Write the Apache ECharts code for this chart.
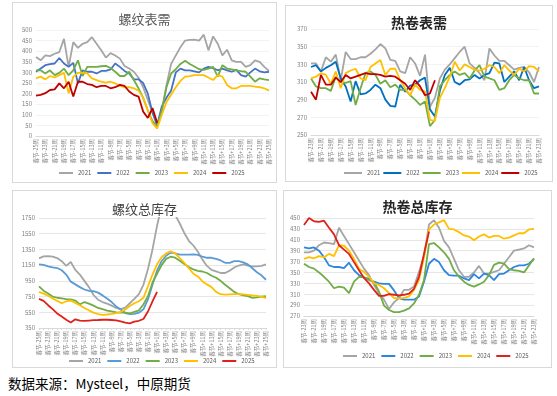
<!DOCTYPE html>
<html><head><meta charset="utf-8">
<script src="https://cdn.jsdelivr.net/npm/echarts@6/dist/echarts.min.js"></script>
<style>
html,body{margin:0;padding:0;background:#fff;width:557px;height:396px;overflow:hidden;font-family:"Noto Sans CJK SC","Noto Sans",sans-serif;}
.box{position:absolute;border:1px solid #d9d9d9;box-sizing:border-box;background:#fff;}
.ch{position:absolute;left:0;top:0;right:0;bottom:0;}
#src{position:absolute;left:8px;top:373px;font-size:13.5px;color:#000;font-family:"Noto Sans CJK SC",sans-serif;}
</style></head><body>
<div class="box" style="left:12px;top:2px;width:265px;height:181px;"><div class="ch" id="c1"></div></div>
<div class="box" style="left:285px;top:5px;width:268px;height:177px;"><div class="ch" id="c2"></div></div>
<div class="box" style="left:12px;top:190px;width:265px;height:178px;"><div class="ch" id="c3"></div></div>
<div class="box" style="left:283px;top:190px;width:269px;height:178px;"><div class="ch" id="c4"></div></div>
<div id="src">数据来源：Mysteel，中原期货</div>
<script>
// ---- categories ----
const weeks51 = ["春节-25周","春节-24周","春节-23周","春节-22周","春节-21周","春节-20周","春节-19周","春节-18周","春节-17周","春节-16周","春节-15周","春节-14周","春节-13周","春节-12周","春节-11周","春节-10周","春节-9周","春节-8周","春节-7周","春节-6周","春节-5周","春节-4周","春节-3周","春节-2周","春节-1周","春节当周","春节+1周","春节+2周","春节+3周","春节+4周","春节+5周","春节+6周","春节+7周","春节+8周","春节+9周","春节+10周","春节+11周","春节+12周","春节+13周","春节+14周","春节+15周","春节+16周","春节+17周","春节+18周","春节+19周","春节+20周","春节+21周","春节+22周","春节+23周","春节+24周","春节+25周"];
const weeks47 = ["春节-23周","春节-22周","春节-21周","春节-20周","春节-19周","春节-18周","春节-17周","春节-16周","春节-15周","春节-14周","春节-13周","春节-12周","春节-11周","春节-10周","春节-9周","春节-8周","春节-7周","春节-6周","春节-5周","春节-4周","春节-3周","春节-2周","春节-1周","春节当周","春节+1周","春节+2周","春节+3周","春节+4周","春节+5周","春节+6周","春节+7周","春节+8周","春节+9周","春节+10周","春节+11周","春节+12周","春节+13周","春节+14周","春节+15周","春节+16周","春节+17周","春节+18周","春节+19周","春节+20周","春节+21周","春节+22周","春节+23周"];
const years = ["2021","2022","2023","2024","2025"];

// ---- 螺纹表需 ----
const rebarDemand2021 = [373,357,380,377,388,396,458,326,443,416,435,443,466,435,404,370,391,380,365,330,318,303,275,230,170,110,55,120,240,340,380,419,450,453,455,450,478,404,470,435,380,407,357,350,350,326,334,357,350,326,307];
const rebarDemand2022 = [303,318,334,339,342,368,342,326,345,248,310,303,303,295,307,307,314,342,326,307,295,267,267,250,200,110,50,140,180,215,300,318,310,310,305,300,318,326,320,310,318,310,303,312,287,280,300,318,305,300,303];
const rebarDemand2023 = [310,310,295,310,287,298,318,287,310,357,283,326,326,326,329,331,321,303,283,283,303,264,225,180,120,70,45,120,230,295,315,340,355,340,328,315,312,318,326,280,334,318,314,310,306,303,280,256,272,267,264];
const rebarDemand2024 = [272,280,267,283,276,287,298,202,280,298,298,295,272,264,256,252,256,248,236,230,230,225,214,180,120,60,35,100,160,195,230,260,280,282,287,287,287,276,264,287,280,241,225,225,236,236,236,233,230,225,214];
const rebarDemand2025 = [190,194,202,217,220,248,225,256,186,256,256,245,241,230,236,236,225,230,241,236,210,194,186,115,85,132,62];

// ---- 热卷表需 ----
const hrcDemand2021 = [331,331,322,338,333,341,312,344,336,336,338,338,342,347,353,348,335,334,322,320,338,331,317,341,282,292,314,324,330,337,344,350,331,326,320,312,348,340,334,334,329,324,326,327,321,310,327];
const hrcDemand2022 = [327,329,322,326,329,333,314,305,288,311,296,297,301,307,303,290,283,282,307,299,306,307,312,315,279,271,300,318,326,310,307,312,313,318,314,318,320,332,331,310,316,322,312,327,312,303,305];
const hrcDemand2023 = [314,305,303,303,300,316,310,309,311,284,303,320,322,318,308,312,304,307,301,301,295,290,284,288,260,267,305,312,318,322,318,320,314,323,329,316,314,312,301,303,312,318,314,312,312,297,297];
const hrcDemand2024 = [314,316,320,318,308,322,303,320,323,325,314,312,327,331,335,318,325,325,312,303,295,307,301,299,267,266,292,303,316,333,323,330,327,324,323,325,329,327,320,329,323,318,325,322,328,327,322];
const hrcDemand2025 = [299,290,318,307,307,315,310,318,314,316,318,320,319,319,318,316,317,316,312,308,301,312,305,295,297,312];

// ---- 螺纹总库存 ----
const rebarStock2021 = [1236,1262,1265,1258,1240,1200,1140,1190,1090,1030,950,870,770,710,680,660,635,605,590,610,665,720,780,900,1100,1350,1650,1900,1980,1900,1790,1680,1560,1460,1400,1320,1220,1140,1090,1070,1050,1050,1080,1120,1145,1160,1145,1135,1135,1140,1160];
const rebarStock2022 = [1161,1152,1135,1122,1113,1085,1030,940,905,870,840,822,818,800,765,725,680,625,585,540,526,530,545,588,714,900,1080,1200,1270,1310,1300,1285,1285,1285,1288,1280,1257,1244,1244,1230,1210,1180,1180,1200,1200,1185,1160,1110,1060,1020,964];
const rebarStock2023 = [880,825,790,750,735,728,718,714,700,650,680,660,635,605,590,572,562,550,546,546,536,555,575,650,755,930,1040,1150,1230,1257,1245,1205,1165,1125,1095,1077,1069,1050,1015,990,950,900,855,810,780,765,755,734,740,750,755];
const rebarStock2024 = [810,787,760,725,695,665,690,700,670,640,605,575,546,528,518,522,530,540,555,585,630,665,690,734,881,1030,1160,1250,1300,1325,1300,1240,1180,1110,1040,1006,943,905,870,810,780,776,778,780,780,778,772,765,758,750,730];
const rebarStock2025 = [720,695,640,590,535,495,455,420,460,445,440,445,450,452,455,455,452,448,435,418,410,432,442,465,560,690,810];

// ---- 热卷总库存 ----
const hrcStock2021 = [387,387,390,400,405,404,402,432,417,402,387,372,357,345,327,312,300,283,295,303,318,318,324,351,381,438,446,432,408,396,375,354,342,342,350,362,348,348,351,354,366,378,390,392,394,400,396];
const hrcStock2022 = [396,394,396,390,378,363,360,360,358,368,354,345,341,338,333,330,329,329,317,303,300,300,300,306,333,366,375,369,354,345,344,344,339,336,347,339,348,345,336,347,348,354,360,363,363,366,375];
const hrcStock2023 = [366,360,357,350,342,333,321,324,322,312,333,342,341,336,332,315,289,281,277,277,280,284,293,309,336,402,404,396,387,375,354,342,333,327,324,328,333,345,364,368,366,356,354,353,350,363,376];
const hrcStock2024 = [375,378,376,380,378,384,380,400,399,390,375,357,351,342,330,327,321,312,303,303,303,306,318,336,378,429,438,442,446,430,429,424,418,416,409,416,420,414,417,417,412,414,418,422,422,429,430];
const hrcStock2025 = [437,450,444,443,445,432,420,400,392,384,369,354,340,330,318,307,307,310,309,308,309,311,320,342,384,425];

const FONT = '"Noto Sans CJK SC","Noto Sans",sans-serif';

function makeChart(id, cfg) {
  const chart = echarts.init(document.getElementById(id), null, {renderer: 'canvas'});
  const series = cfg.data.map((d, k) => ({
    name: years[k], type: 'line', data: d, symbol: 'none', showSymbol: false,
    smooth: false, clip: true,
    lineStyle: {width: 1.8, color: cfg.colors[k]}, itemStyle: {color: cfg.colors[k]},
    z: k === 4 ? 10 : 2 + k
  }));
  chart.setOption({
    animation: false,
    backgroundColor: '#fff',
    title: {text: cfg.title, left: 'center', top: cfg.titleTop,
      textStyle: {fontSize: cfg.titleSize, fontWeight: cfg.titleWeight, color: cfg.titleColor, fontFamily: FONT}},
    legend: {data: years.map(y => ({name: y, icon: 'rect'})), left: cfg.legendLeft, top: cfg.legendTop,
      padding: 0, width: 250, itemWidth: cfg.legendItemW, itemHeight: 2,
      itemGap: cfg.legendGap, textStyle: {fontSize: 6, color: '#595959', fontFamily: FONT}},
    grid: cfg.grid,
    xAxis: {type: 'category', data: cfg.cats, boundaryGap: false,
      axisLine: {show: true, lineStyle: {color: '#d9d9d9'}},
      axisTick: {show: cfg.ticks, length: 2, interval: 0, lineStyle: {color: '#d9d9d9'}},
      axisLabel: {interval: 1, rotate: 90, fontSize: 5.5, color: '#7f7f7f', margin: 3, fontFamily: FONT}},
    yAxis: {type: 'value', min: cfg.min, max: cfg.max, interval: cfg.interval,
      axisLine: {show: false}, axisTick: {show: false},
      axisLabel: {fontSize: 6, color: '#7f7f7f', margin: 4, fontFamily: FONT, formatter: v => String(v)},
      splitLine: {show: true, lineStyle: {color: cfg.gridColor, width: 1}}},
    series: series
  });
}

makeChart('c1', {
  title: '螺纹表需', titleTop: 5, titleSize: 13, titleWeight: 'normal', titleColor: '#595959',
  cats: weeks51, data: [rebarDemand2021, rebarDemand2022, rebarDemand2023, rebarDemand2024, rebarDemand2025],
  colors: ['#a5a5a5', '#4472c4', '#70ad47', '#ffc000', '#c00000'],
  grid: {left: 23, right: 7, top: 27, bottom: 46},
  min: 0, max: 500, interval: 50, gridColor: '#f2f2f2', ticks: false,
  legendLeft: 46, legendTop: 167, legendItemW: 14, legendGap: 6
});
makeChart('c2', {
  title: '热卷表需', titleTop: 5, titleSize: 14, titleWeight: 'bold', titleColor: '#262626',
  cats: weeks47, data: [hrcDemand2021, hrcDemand2022, hrcDemand2023, hrcDemand2024, hrcDemand2025],
  colors: ['#a5a5a5', '#0070c0', '#70ad47', '#ffc000', '#c00000'],
  grid: {left: 25, right: 13, top: 23, bottom: 46},
  min: 250, max: 370, interval: 20, gridColor: '#f2f2f2', ticks: false,
  legendLeft: 58, legendTop: 164, legendItemW: 18, legendGap: 3
});
makeChart('c3', {
  title: '螺纹总库存', titleTop: 7, titleSize: 13, titleWeight: 'normal', titleColor: '#404040',
  cats: weeks51, data: [rebarStock2021, rebarStock2022, rebarStock2023, rebarStock2024, rebarStock2025],
  colors: ['#a5a5a5', '#5b9bd5', '#70ad47', '#ffc000', '#e0201b'],
  grid: {left: 26, right: 10, top: 27, bottom: 39},
  min: 350, max: 1750, interval: 200, gridColor: '#e6e6e6', ticks: true,
  legendLeft: 56, legendTop: 167, legendItemW: 14, legendGap: 6
});
makeChart('c4', {
  title: '热卷总库存', titleTop: 4, titleSize: 14, titleWeight: 'bold', titleColor: '#262626',
  cats: weeks47, data: [hrcStock2021, hrcStock2022, hrcStock2023, hrcStock2024, hrcStock2025],
  colors: ['#a5a5a5', '#2e86de', '#70ad47', '#ffc000', '#e0201b'],
  grid: {left: 20, right: 17, top: 27, bottom: 51},
  min: 270, max: 450, interval: 20, gridColor: '#e6e6e6', ticks: false,
  legendLeft: 59, legendTop: 162, legendItemW: 14, legendGap: 6
});
</script>
</body></html>
